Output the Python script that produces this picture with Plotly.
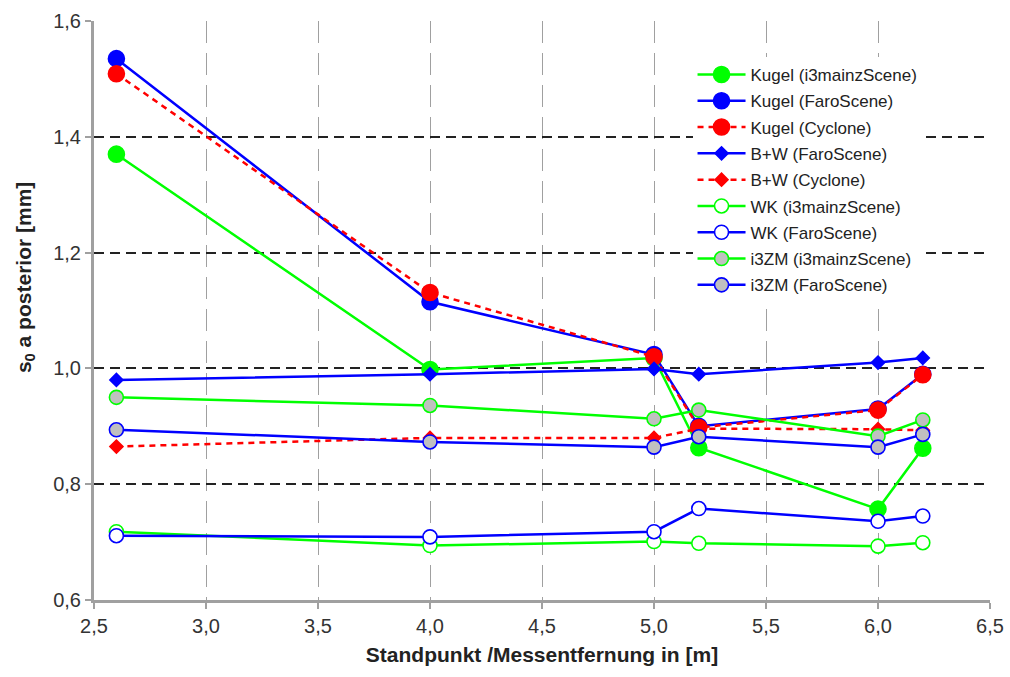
import plotly.graph_objects as go

x_vals = [2.6, 4.0, 5.0, 5.2, 6.0, 6.2]

kugel_i3 = [1.370, 0.998, 1.018, 0.863, 0.757, 0.862]
kugel_faro = [1.535, 1.115, 1.024, 0.900, 0.930, 0.990]
kugel_cyc = [1.509, 1.131, 1.020, 0.898, 0.928, 0.989]
bw_faro = [0.980, 0.990, 0.999, 0.990, 1.010, 1.018]
bw_cyc = [0.865, 0.880, 0.880, 0.896, 0.895, 0.893]
wk_i3 = [0.718, 0.694, 0.701, 0.698, 0.693, 0.699]
wk_faro = [0.711, 0.709, 0.718, 0.758, 0.736, 0.745]
i3zm_i3 = [0.950, 0.936, 0.913, 0.928, 0.883, 0.911]
i3zm_faro = [0.894, 0.873, 0.864, 0.882, 0.864, 0.886]

x_ticks = [2.5, 3.0, 3.5, 4.0, 4.5, 5.0, 5.5, 6.0, 6.5]
y_ticks = [0.6, 0.8, 1.0, 1.2, 1.4, 1.6]

GREEN = "#00ff00"
BLUE = "#0000ff"
RED = "#ff0000"
GRAY = "#c0c0c0"

series = [
    ("Kugel (i3mainzScene)", kugel_i3, GREEN, "solid", "circle", 16, GREEN, GREEN),
    ("Kugel (FaroScene)", kugel_faro, BLUE, "solid", "circle", 16, BLUE, BLUE),
    ("Kugel (Cyclone)", kugel_cyc, RED, "6px,5px", "circle", 16, RED, RED),
    ("B+W (FaroScene)", bw_faro, BLUE, "solid", "diamond", 10, BLUE, BLUE),
    ("B+W (Cyclone)", bw_cyc, RED, "6px,5px", "diamond", 10, RED, RED),
    ("WK (i3mainzScene)", wk_i3, GREEN, "solid", "circle", 14, "#ffffff", GREEN),
    ("WK (FaroScene)", wk_faro, BLUE, "solid", "circle", 14, "#ffffff", BLUE),
    ("i3ZM (i3mainzScene)", i3zm_i3, GREEN, "solid", "circle", 14, GRAY, GREEN),
    ("i3ZM (FaroScene)", i3zm_faro, BLUE, "solid", "circle", 14, GRAY, BLUE),
]

fig = go.Figure()
for i, (name, vals, col, dash, sym, size, fill, edge) in enumerate(series):
    fig.add_trace(go.Scatter(
        x=x_vals, y=vals, name=name, mode="lines+markers",
        legendgroup=f"g{i}",
        line=dict(color=col, width=2.5, dash=dash),
        marker=dict(symbol=sym, size=size, color=fill,
                    line=dict(color=edge, width=1.6)),
    ))

FONT = "Liberation Sans, Arial, sans-serif"

fig.update_layout(
    width=1010, height=677,
    margin=dict(l=94, r=20, t=21, b=77),
    paper_bgcolor="white", plot_bgcolor="white",
    separators=",.",
    font=dict(family=FONT, color="#222222"),
    showlegend=True,
    legend=dict(
        x=0.668, y=0.938, xanchor="left", yanchor="top",
        bgcolor="#ffffff", borderwidth=0,
        font=dict(family=FONT, size=17, color="#222222"),
        tracegroupgap=1.2, itemwidth=48,
    ),
    xaxis=dict(
        range=[2.5, 6.5], tickmode="array", tickvals=x_ticks,
        tickformat=".1f", automargin=False,
        showline=True, linecolor="#a0a0a0", linewidth=3,
        ticks="outside", ticklen=6, tickwidth=2, tickcolor="#a0a0a0",
        showgrid=True, gridcolor="#a0a0a0", gridwidth=1.2,
        griddash="22px,10px",
        zeroline=False,
        tickfont=dict(family=FONT, size=20, color="#333333"),
        title=dict(text="<b>Standpunkt /Messentfernung in [m]</b>",
                   font=dict(family=FONT, size=21, color="#222222"),
                   standoff=12),
    ),
    yaxis=dict(
        range=[0.6, 1.6], tickmode="array", tickvals=y_ticks,
        tickformat=".1f", automargin=False,
        showline=True, linecolor="#a0a0a0", linewidth=3,
        ticks="outside", ticklen=6, tickwidth=2, tickcolor="#a0a0a0",
        showgrid=True, gridcolor="#222222", gridwidth=1.5,
        griddash="10px,6px",
        zeroline=False,
        tickfont=dict(family=FONT, size=20, color="#333333"),
    ),
    annotations=[dict(
        text="<b>s<sub>0</sub> a posterior [mm]</b>",
        xref="paper", yref="paper", x=-0.077, y=0.556,
        xanchor="center", yanchor="middle", textangle=-90,
        showarrow=False,
        font=dict(family=FONT, size=21, color="#222222"),
    )],
)

fig.write_html("out.html", config={"displayModeBar": False},
               post_script="document.body.style.margin='0';")
